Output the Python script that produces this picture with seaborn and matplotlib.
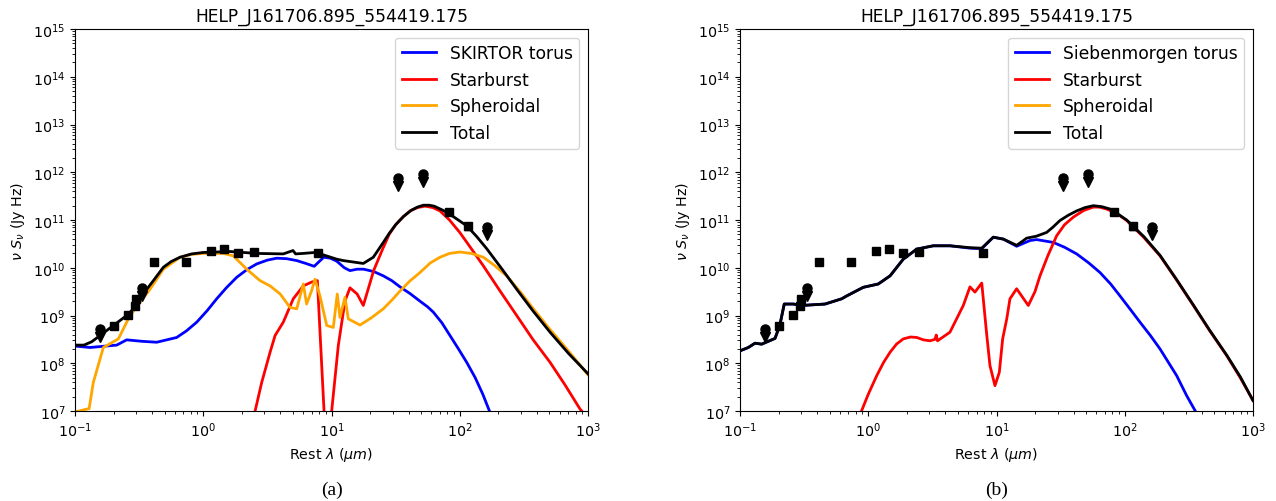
import numpy as np
import matplotlib
matplotlib.use('Agg')
import matplotlib.pyplot as plt
import seaborn as sns

# digitised values, wavelengths as log10(um), fluxes as log10(Jy Hz)
# panel (a): SKIRTOR fit
torus_a_x = [-1.0, -0.883, -0.675, -0.597, -0.48, -0.363, -0.207, -0.13, -0.051, 0.03, 0.105, 0.18,
             0.261, 0.34, 0.417, 0.50, 0.573, 0.65, 0.729, 0.80, 0.865, 0.90, 0.94, 0.99, 1.04,
             1.10, 1.144, 1.20, 1.25, 1.33, 1.404, 1.47, 1.534, 1.612, 1.69, 1.75, 1.794, 1.86,
             1.924, 1.99, 2.054, 2.12, 2.18, 2.236]
torus_a_y = [8.36, 8.33, 8.38, 8.49, 8.46, 8.44, 8.54, 8.68, 8.86, 9.10, 9.35, 9.58,
             9.80, 9.96, 10.08, 10.16, 10.20, 10.19, 10.15, 10.09, 10.03, 10.12, 10.22, 10.20, 10.14,
             10.0, 9.94, 9.97, 9.97, 9.92, 9.83, 9.73, 9.60, 9.46, 9.30, 9.18, 9.07, 8.85,
             8.58, 8.30, 8.02, 7.70, 7.35, 6.97]

starburst_a_x = [0.40, 0.456, 0.521, 0.56, 0.624, 0.702, 0.78, 0.845, 0.89, 0.942, 0.97, 1.001,
                 1.053, 1.105, 1.144, 1.20, 1.248, 1.33, 1.40, 1.45, 1.50, 1.56, 1.612, 1.67,
                 1.729, 1.79, 1.846, 1.92, 2.0, 2.09, 2.184, 2.31, 2.444, 2.57, 2.704, 2.82,
                 2.938, 3.0]
starburst_a_y = [6.95, 7.60, 8.23, 8.58, 8.86, 9.35, 9.62, 9.70, 9.73, 6.99, 6.0, 6.99,
                 8.37, 9.30, 9.58, 9.45, 9.21, 9.95, 10.40, 10.70, 10.90, 11.07, 11.19, 11.26,
                 11.29, 11.26, 11.19, 11.0, 10.74, 10.40, 10.04, 9.53, 9.0, 8.5, 8.02, 7.55,
                 7.04, 6.85]

spheroid_a_x = [-1.0, -0.909, -0.89, -0.857, -0.779, -0.662, -0.571, -0.415, -0.311, -0.181, -0.09,
                0.0, 0.156, 0.234, 0.339, 0.443, 0.521, 0.60, 0.676, 0.729, 0.78, 0.806, 0.845,
                0.871, 0.91, 0.963, 1.014, 1.045, 1.066, 1.105, 1.131, 1.222, 1.31, 1.404, 1.47,
                1.53, 1.61, 1.69, 1.77, 1.846, 1.92, 2.0, 2.09, 2.184, 2.27, 2.366, 2.47, 2.574,
                2.70, 2.834, 3.0]
spheroid_a_y = [6.98, 7.04, 7.05, 7.60, 8.33, 8.51, 9.0, 9.55, 9.97, 10.22, 10.28,
                10.30, 10.30, 10.25, 9.97, 9.73, 9.62, 9.45, 9.17, 9.14, 9.66, 9.24, 9.52,
                9.76, 9.41, 8.79, 8.75, 9.45, 8.96, 9.38, 8.93, 8.80, 8.95, 9.14, 9.32,
                9.50, 9.72, 9.90, 10.10, 10.22, 10.30, 10.33, 10.30, 10.22, 10.05, 9.83, 9.50, 9.14,
                8.72, 8.30, 7.76]

total_a_x = [-1.0, -0.93, -0.87, -0.805, -0.701, -0.597, -0.54, -0.493, -0.44, -0.389, -0.311,
             -0.25, -0.181, -0.09, 0.0, 0.209, 0.417, 0.624, 0.70, 0.72, 0.78, 0.87, 0.936,
             1.04, 1.092, 1.17, 1.248, 1.326, 1.404, 1.45, 1.50, 1.56, 1.62, 1.67, 1.716, 1.76,
             1.80, 1.872, 1.95, 2.054, 2.13, 2.21, 2.33, 2.444, 2.57, 2.704, 2.85, 3.0]
total_a_y = [8.38, 8.38, 8.45, 8.58, 8.79, 9.0, 9.15, 9.35, 9.55, 9.73, 10.01,
             10.13, 10.22, 10.29, 10.32, 10.34, 10.30, 10.29, 10.36, 10.29, 10.30, 10.32, 10.27,
             10.18, 10.15, 10.12, 10.09, 10.22, 10.53, 10.72, 10.90, 11.07, 11.20, 11.27, 11.31, 11.31,
             11.29, 11.20, 11.07, 10.88, 10.66, 10.40, 9.97, 9.55, 9.10, 8.65, 8.20, 7.78]

# panel (b): Siebenmorgen fit
torus_b_x = [-1.0, -0.935, -0.883, -0.831, -0.727, -0.69, -0.655, -0.584, -0.519, -0.337, -0.207,
             -0.168, -0.039, 0.078, 0.17, 0.273, 0.378, 0.507, 0.637, 0.793, 0.885, 0.975,
             1.053, 1.157, 1.261, 1.313, 1.443, 1.53, 1.625, 1.72, 1.807, 1.89, 1.963, 2.04,
             2.119, 2.2, 2.275, 2.34, 2.405, 2.483, 2.548]
torus_b_y = [8.26, 8.33, 8.42, 8.40, 8.52, 8.79, 9.24, 9.24, 9.21, 9.24, 9.35,
             9.41, 9.59, 9.66, 9.83, 10.18, 10.39, 10.46, 10.46, 10.41, 10.40, 10.64,
             10.60, 10.45, 10.57, 10.59, 10.53, 10.43, 10.29, 10.10, 9.90, 9.66, 9.41, 9.14,
             8.86, 8.58, 8.30, 8.02, 7.74, 7.32, 7.01]

starburst_b_x = [-0.06, 0.0, 0.066, 0.12, 0.17, 0.22, 0.273, 0.33, 0.378, 0.43, 0.481, 0.52, 0.53,
                 0.54, 0.637, 0.715, 0.741, 0.793, 0.832, 0.885, 0.923, 0.949, 0.988, 1.022,
                 1.048, 1.080, 1.105, 1.157, 1.248, 1.30, 1.339, 1.40, 1.469, 1.53, 1.599, 1.68,
                 1.755, 1.80, 1.859, 1.94, 2.015, 2.15, 2.275, 2.40, 2.535, 2.66, 2.795, 2.9, 3.0]
starburst_b_y = [6.95, 7.35, 7.74, 8.02, 8.23, 8.40, 8.51, 8.55, 8.54, 8.49, 8.47, 8.50, 8.59,
                 8.47, 8.65, 9.07, 9.21, 9.60, 9.49, 9.68, 8.62, 7.95, 7.53, 7.81,
                 8.51, 8.93, 9.35, 9.56, 9.21, 9.50, 9.83, 10.25, 10.67, 10.90, 11.06, 11.20,
                 11.27, 11.27, 11.23, 11.13, 10.99, 10.63, 10.25, 9.76, 9.21, 8.69, 8.16, 7.70, 7.22]

total_b_x = [-1.0, -0.935, -0.883, -0.831, -0.727, -0.69, -0.655, -0.584, -0.519, -0.337, -0.207,
             -0.168, -0.039, 0.078, 0.17, 0.273, 0.378, 0.507, 0.637, 0.793, 0.885, 0.975,
             1.053, 1.157, 1.20, 1.235, 1.31, 1.391, 1.44, 1.495, 1.56, 1.625, 1.69, 1.755,
             1.82, 1.885, 1.95, 2.015, 2.15, 2.275, 2.40, 2.535, 2.66, 2.795, 2.9, 3.0]
total_b_y = [8.26, 8.33, 8.42, 8.40, 8.52, 8.79, 9.24, 9.24, 9.21, 9.24, 9.35,
             9.41, 9.59, 9.66, 9.83, 10.18, 10.39, 10.46, 10.46, 10.42, 10.41, 10.64,
             10.60, 10.47, 10.55, 10.62, 10.66, 10.74, 10.85, 10.99, 11.10, 11.19, 11.26, 11.30,
             11.28, 11.23, 11.12, 11.0, 10.65, 10.26, 9.77, 9.22, 8.70, 8.17, 7.72, 7.22]

# photometry (um, log10 Jy Hz)
det_lam = [0.201, 0.26, 0.294, 0.30, 0.413, 0.73, 1.15, 1.45, 1.87, 2.48, 7.8, 82, 115]
det_flux = [8.77, 9.01, 9.19, 9.35, 10.11, 10.11, 10.36, 10.39, 10.31, 10.33, 10.30, 11.16, 10.87]
det_err = [0.10, 0.15, 0.10, 0.10, 0.08, 0.08, 0.05, 0.05, 0.05, 0.05, 0.08, 0.10, 0.18]
ul_lam = [0.157, 0.335, 33, 52, 163]
ul_flux = [8.72, 9.58, 11.87, 11.96, 10.86]

title = 'HELP_J161706.895_554419.175'
panels = [
    ('SKIRTOR torus', (torus_a_x, torus_a_y), (starburst_a_x, starburst_a_y),
     (spheroid_a_x, spheroid_a_y), (total_a_x, total_a_y), '(a)'),
    ('Siebenmorgen torus', (torus_b_x, torus_b_y), (starburst_b_x, starburst_b_y),
     None, (total_b_x, total_b_y), '(b)'),
]

fig = plt.figure(figsize=(12.76, 5.02), dpi=100)
lefts = [75 / 1276, 740 / 1276]

for (torus_name, tor, sb, sph, tot, cap), left in zip(panels, lefts):
    ax = fig.add_axes([left, 1 - 412 / 502, 513 / 1276, 382 / 502])
    ax.set_xscale('log')
    ax.set_yscale('log')

    curves = [(torus_name, tor, 'blue'), ('Starburst', sb, 'red'),
              ('Spheroidal', sph, 'orange'), ('Total', tot, 'black')]
    for name, cur, col in curves:
        if cur is None:
            # spheroidal component lies below the plotted range in panel (b)
            sns.lineplot(x=[1e-3, 2e-3], y=[1e5, 1e5], ax=ax, color=col, lw=2, label=name)
            continue
        xs = np.power(10.0, cur[0])
        ys = np.power(10.0, cur[1])
        sns.lineplot(x=xs, y=ys, ax=ax, color=col, lw=2, label=name, sort=False, estimator=None)

    dl = np.array(det_lam)
    df = np.power(10.0, det_flux)
    de = df * np.array(det_err)
    ax.errorbar(dl, df, yerr=de, fmt='s', color='black', ms=6, capsize=3, elinewidth=1.2, zorder=5)
    ul = np.array(ul_lam)
    uf = np.power(10.0, ul_flux)
    ax.plot(ul, uf, 'o', color='black', ms=6.5, zorder=5)
    ax.plot(ul, uf * 0.68, 'v', color='black', ms=6.5, zorder=5)

    ax.set_xlim(0.1, 1000)
    ax.set_ylim(1e7, 1e15)
    ax.set_title(title, fontsize=12.3)
    ax.set_xlabel(r'Rest $\lambda$ ($\mu m$)', fontsize=10.3)
    ax.set_ylabel(r'$\nu$ $S_{\nu}$ (Jy Hz)', fontsize=10.3)
    ax.tick_params(labelsize=10.3)
    ax.legend(loc='upper right', fontsize=12.3)

    fig.text(left + 513 / 1276 / 2, 1 - 490 / 502, cap, ha='center', va='center',
             fontsize=14, family='Liberation Serif')

fig.savefig('out.png', dpi=100)
